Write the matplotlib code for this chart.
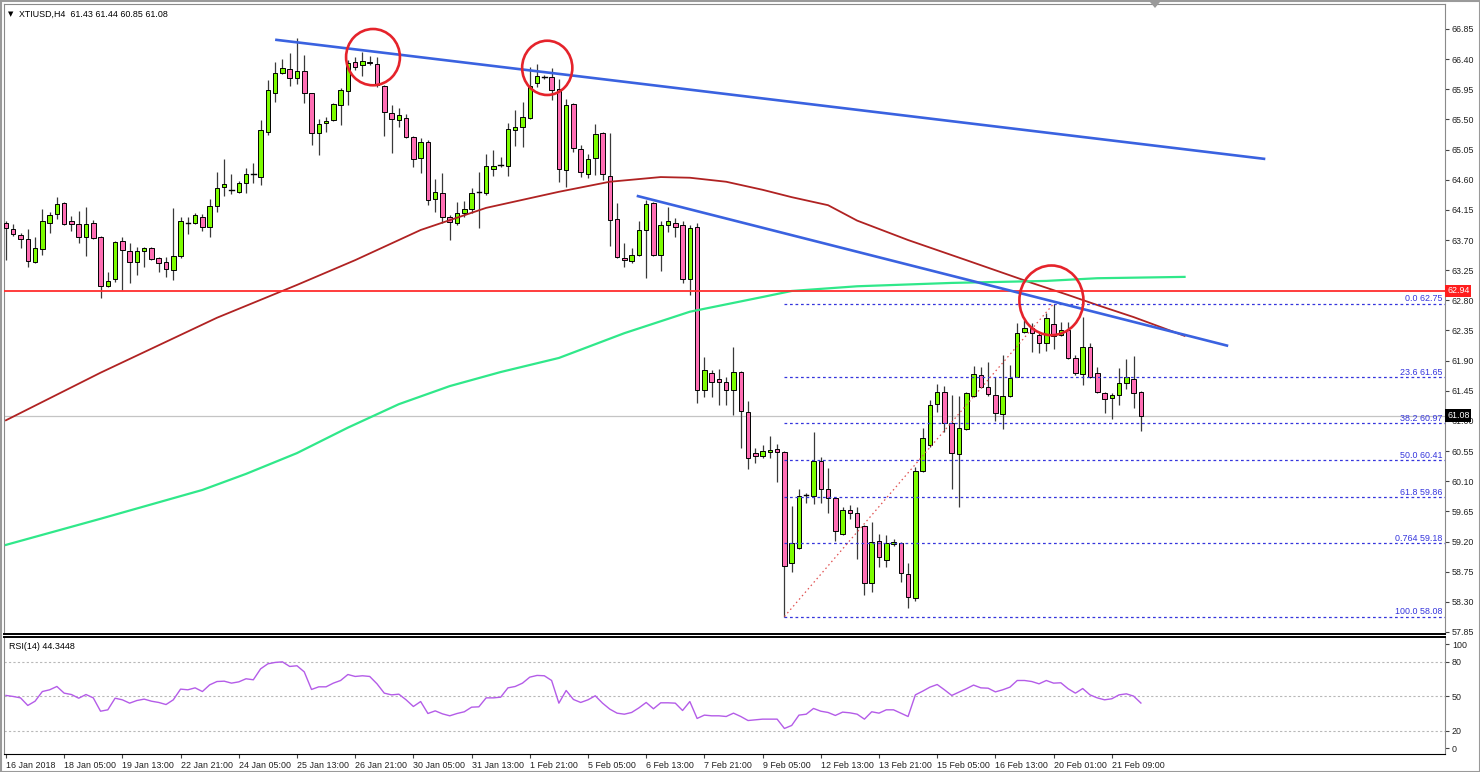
import matplotlib
matplotlib.use("Agg")
import matplotlib.pyplot as plt
from matplotlib.patches import Rectangle, Ellipse, Polygon
import matplotlib.transforms as mtransforms

plt.rcParams['font.family'] = ['Liberation Sans', 'DejaVu Sans']

# ---------------- data ----------------
opens = [63.95, 63.87, 63.78, 63.72, 63.37, 63.57, 63.95, 64.09, 64.25, 63.98,
         63.94, 63.75, 63.95, 63.75, 63.01, 63.12, 63.69, 63.54, 63.37, 63.54,
         63.58, 63.43, 63.37, 63.25, 63.46, 63.94, 63.95, 64.04, 63.90, 64.21,
         64.49, 64.43, 64.42, 64.55, 64.67, 64.64, 65.31, 65.89, 66.19, 66.25,
         66.12, 66.22, 65.89, 65.30, 65.45, 65.49, 65.72, 65.92, 66.36, 66.31,
         66.36, 66.33, 66.00, 65.60, 65.49, 65.52, 65.24, 64.93, 65.16, 64.31,
         64.40, 64.04, 63.95, 64.10, 64.16, 64.40, 64.40, 64.76, 64.81, 64.81,
         65.34, 65.39, 65.52, 66.04, 66.13, 66.13, 65.95, 64.75, 65.73, 65.06,
         64.69, 64.93, 65.30, 64.66, 64.01, 63.43, 63.39, 63.48, 63.85, 64.25,
         63.48, 63.92, 63.95, 63.92, 63.12, 63.89, 61.46, 61.72, 61.63, 61.58,
         61.46, 61.73, 61.13, 60.52, 60.48, 60.54, 60.58, 60.54, 58.88, 59.10,
         59.89, 59.88, 60.40, 59.98, 59.85, 59.31, 59.67, 59.63, 59.43, 58.58,
         59.21, 58.92, 59.16, 59.18, 58.72, 58.36, 60.25, 60.64, 61.25, 61.43,
         60.97, 60.51, 60.88, 61.37, 61.69, 61.51, 61.39, 61.10, 61.37, 61.66,
         62.33, 62.39, 62.28, 62.16, 62.45, 62.28, 62.36, 61.94, 61.70, 62.10,
         61.72, 61.42, 61.34, 61.39, 61.57, 61.63, 61.43]
highs = [63.98, 63.94, 63.81, 63.87, 63.75, 64.16, 64.12, 64.34, 64.27, 64.06,
         64.13, 64.19, 64.00, 63.76, 63.22, 63.69, 63.75, 63.66, 63.60, 63.60,
         63.60, 63.45, 63.45, 64.18, 64.04, 64.04, 64.10, 64.09, 64.31, 64.72,
         64.91, 64.69, 64.58, 64.78, 64.85, 65.49, 66.09, 66.36, 66.40, 66.49,
         66.72, 66.46, 65.90, 65.51, 65.54, 65.75, 65.97, 66.39, 66.43, 66.51,
         66.45, 66.43, 66.01, 65.72, 65.67, 65.58, 65.25, 65.22, 65.19, 64.61,
         64.70, 64.07, 64.27, 64.28, 64.48, 64.72, 64.98, 65.04, 64.94, 65.45,
         65.64, 65.76, 66.28, 66.33, 66.16, 66.27, 66.10, 65.81, 65.75, 65.12,
         64.99, 65.43, 65.31, 65.30, 64.25, 63.66, 63.58, 63.98, 64.30, 64.27,
         63.98, 64.19, 64.03, 63.98, 63.92, 63.95, 61.95, 61.76, 61.78, 61.66,
         62.10, 61.74, 61.30, 60.60, 60.64, 60.78, 60.66, 60.55, 59.73, 59.98,
         59.92, 60.84, 60.46, 60.30, 59.86, 59.72, 59.75, 59.72, 59.44, 59.49,
         59.31, 59.30, 59.24, 59.19, 58.88, 60.31, 60.90, 61.31, 61.55, 61.52,
         61.39, 61.37, 61.43, 61.82, 61.81, 61.88, 61.66, 61.98, 61.83, 62.46,
         62.51, 62.46, 62.31, 62.61, 62.75, 62.48, 62.48, 61.98, 62.55, 62.16,
         61.81, 61.43, 61.42, 61.79, 61.92, 61.97, 61.44]
lows = [63.40, 63.76, 63.58, 63.30, 63.36, 63.48, 63.81, 64.01, 63.93, 63.84,
        63.66, 63.46, 63.72, 62.84, 63.00, 63.07, 62.95, 63.06, 63.18, 63.30,
        63.40, 63.22, 63.15, 63.10, 63.43, 63.79, 63.94, 63.84, 63.75, 64.12,
        64.36, 64.39, 64.40, 64.40, 64.55, 64.52, 65.27, 65.76, 66.18, 66.00,
        66.03, 65.75, 65.12, 64.97, 65.31, 65.48, 65.42, 65.72, 66.24, 66.15,
        66.31, 65.98, 65.25, 65.00, 65.39, 65.22, 64.79, 64.70, 64.22, 64.12,
        63.95, 63.70, 63.92, 64.04, 64.10, 63.88, 64.37, 64.66, 64.79, 64.66,
        65.10, 65.09, 65.51, 65.98, 66.10, 65.79, 64.57, 64.49, 65.01, 64.64,
        64.63, 64.67, 64.60, 63.61, 63.43, 63.30, 63.36, 63.46, 63.13, 63.46,
        63.24, 63.82, 63.75, 63.06, 62.88, 61.27, 61.36, 61.36, 61.24, 61.24,
        61.09, 60.60, 60.28, 60.37, 60.45, 60.45, 60.09, 58.08, 58.75, 59.09,
        59.78, 59.76, 59.78, 59.63, 59.21, 59.30, 59.54, 58.94, 58.40, 58.45,
        58.82, 58.82, 59.13, 58.60, 58.21, 58.31, 60.24, 60.61, 61.13, 60.83,
        59.98, 59.72, 60.87, 61.36, 61.49, 61.37, 61.00, 60.88, 61.36, 61.65,
        62.32, 62.03, 62.01, 62.04, 62.07, 62.27, 61.92, 61.69, 61.54, 61.64,
        61.42, 61.12, 61.03, 61.24, 61.48, 61.19, 60.85]
closes = [63.88, 63.79, 63.72, 63.39, 63.58, 63.98, 64.07, 64.24, 63.94, 63.94,
          63.75, 63.94, 63.73, 63.01, 63.09, 63.67, 63.55, 63.37, 63.54, 63.58,
          63.42, 63.36, 63.27, 63.46, 63.98, 63.95, 64.07, 63.90, 64.21, 64.48,
          64.54, 64.44, 64.55, 64.69, 64.68, 65.34, 65.94, 66.19, 66.27, 66.12,
          66.22, 65.89, 65.30, 65.43, 65.48, 65.73, 65.94, 66.34, 66.28, 66.37,
          66.34, 66.01, 65.61, 65.51, 65.57, 65.24, 64.91, 65.16, 64.30, 64.42,
          64.04, 63.97, 64.10, 64.16, 64.40, 64.41, 64.81, 64.81, 64.82, 65.36,
          65.39, 65.54, 66.00, 66.15, 66.14, 65.94, 64.76, 65.72, 65.07, 64.72,
          64.91, 65.28, 64.69, 64.00, 63.45, 63.40, 63.48, 63.85, 64.24, 63.48,
          63.92, 63.98, 63.90, 63.12, 63.88, 61.46, 61.76, 61.58, 61.58, 61.46,
          61.73, 61.15, 60.45, 60.48, 60.55, 60.57, 60.54, 58.84, 59.18, 59.88,
          59.90, 60.40, 59.98, 59.85, 59.36, 59.67, 59.63, 59.42, 58.58, 59.19,
          58.97, 59.18, 59.19, 58.73, 58.37, 60.25, 60.75, 61.24, 61.43, 60.97,
          60.52, 60.90, 61.42, 61.70, 61.51, 61.40, 61.12, 61.37, 61.64, 62.31,
          62.39, 62.31, 62.16, 62.54, 62.27, 62.36, 61.94, 61.72, 62.10, 61.66,
          61.43, 61.33, 61.39, 61.57, 61.66, 61.42, 61.08]

rsi = [50.9, 50.0, 48.8, 42.2, 45.9, 54.3, 55.8, 58.7, 52.9, 51.7,
       48.5, 51.7, 48.8, 37.2, 38.4, 48.5, 47.1, 44.2, 46.5, 47.7,
       45.9, 44.8, 43.0, 47.1, 56.4, 55.8, 57.5, 54.3, 60.1, 63.0,
       63.3, 61.6, 62.7, 65.4, 64.5, 74.0, 78.4, 79.6, 80.1, 76.1,
       76.7, 71.4, 56.1, 58.4, 58.4, 61.6, 63.9, 69.1, 67.4, 68.0,
       67.4, 61.0, 52.9, 51.4, 52.0, 47.1, 41.3, 45.6, 35.2, 37.5,
       34.9, 33.2, 35.2, 36.7, 40.7, 41.0, 48.8, 48.8, 49.4, 57.5,
       58.7, 61.6, 66.8, 68.3, 68.0, 63.9, 44.2, 55.2, 47.4, 44.8,
       47.1, 50.6, 44.2, 39.0, 35.5, 34.6, 36.1, 40.1, 44.8, 39.3,
       44.5, 44.5, 44.2, 37.8, 45.6, 30.9, 33.8, 33.2, 33.2, 32.6,
       35.5, 32.6, 29.1, 29.7, 30.3, 30.3, 30.3, 22.2, 24.8, 33.8,
       34.6, 39.6, 37.2, 36.1, 33.5, 36.4, 35.8, 34.6, 30.3, 36.7,
       35.5, 38.4, 38.4, 35.5, 32.6, 51.4, 54.6, 58.1, 60.4, 55.8,
       50.9, 53.8, 56.7, 59.9, 57.5, 57.2, 54.0, 55.8, 58.1, 63.9,
       63.9, 63.0, 61.0, 63.9, 61.6, 61.9, 56.7, 52.9, 56.9, 51.4,
       48.8, 47.1, 48.0, 51.4, 52.3, 50.3, 44.3]

# moving averages read at sample bars
ma_red_bars = [0, 13, 29, 40, 48, 57, 66, 76, 83, 90, 94, 99, 104, 108, 113, 117, 124, 132, 141, 146, 150, 155, 159, 162]
ma_red_vals = [61.01, 61.72, 62.54, 63.03, 63.40, 63.85, 64.18, 64.42, 64.57, 64.64, 64.63, 64.57,
               64.45, 64.34, 64.22, 63.99, 63.70, 63.40, 63.06, 62.88, 62.73, 62.55, 62.39, 62.27]
ma_green_bars = [0, 13, 27, 33, 40, 47, 54, 61, 68, 76, 85, 94, 104, 108, 117, 130, 143, 150, 162]
ma_green_vals = [59.15, 59.54, 59.97, 60.21, 60.52, 60.90, 61.25, 61.52, 61.73, 61.94, 62.31, 62.63,
                 62.85, 62.94, 63.01, 63.06, 63.09, 63.13, 63.15]

# trend lines (bar, price)
trend1 = [(37.0, 66.69), (173.1, 64.91)]
trend2 = [(86.7, 64.36), (168.0, 62.12)]
fib_from = (107, 58.08)
fib_to = (144, 62.75)
fib_levels = [("0.0", 62.75), ("23.6", 61.65), ("38.2", 60.97), ("50.0", 60.41),
              ("61.8", 59.86), ("0.764", 59.18), ("100.0", 58.08)]
resistance = 62.94
bid = 61.08
# circles: centre bar, centre price, width (bars), height (price)
circles = [(50.45, 66.43, 7.4, 0.84), (74.4, 66.27, 6.9, 0.81), (143.7, 62.80, 8.8, 1.04)]

price_ticks = [66.85, 66.40, 65.95, 65.50, 65.05, 64.60, 64.15, 63.70, 63.25, 62.80, 62.35,
               61.90, 61.45, 61.00, 60.55, 60.10, 59.65, 59.20, 58.75, 58.30, 57.85]
date_tick_bars = [0, 8, 16, 24, 32, 40, 48, 56, 64, 72, 80, 88, 96, 104, 112, 120, 128, 136, 144, 152]
date_labels = ["16 Jan 2018", "18 Jan 05:00", "19 Jan 13:00", "22 Jan 21:00", "24 Jan 05:00",
               "25 Jan 13:00", "26 Jan 21:00", "30 Jan 05:00", "31 Jan 13:00", "1 Feb 21:00",
               "5 Feb 05:00", "6 Feb 13:00", "7 Feb 21:00", "9 Feb 05:00", "12 Feb 13:00",
               "13 Feb 21:00", "15 Feb 05:00", "16 Feb 13:00", "20 Feb 01:00", "21 Feb 09:00"]

# ---------------- figure ----------------
W, H = 1480, 772
fig = plt.figure(figsize=(W / 100, H / 100), dpi=100)
fig.patch.set_facecolor("white")

def fx(px):
    return px / W

def fy(py):
    return 1 - py / H

XL = (-0.27, 197.8)
ax = fig.add_axes([fx(4), fy(634), fx(1445) - fx(4), fy(4) - fy(634)])
axr = fig.add_axes([fx(4), fy(754), fx(1445) - fx(4), fy(637) - fy(754)])

FS = 6.4
TXT = "#202020"

# candles
bull, bear = "#7CFC00", "#FF6EB4"
bw = 0.62
for i, (o, h, l, c) in enumerate(zip(opens, highs, lows, closes)):
    ax.plot([i, i], [l, h], color="#3a3a3a", lw=0.9, zorder=2, solid_capstyle="butt")
    if abs(c - o) < 0.015:
        ax.plot([i - bw / 2, i + bw / 2], [c, c], color="black", lw=1.0, zorder=3)
    else:
        col = bull if c > o else bear
        ax.add_patch(Rectangle((i - bw / 2, min(o, c)), bw, abs(c - o),
                               facecolor=col, edgecolor="black", lw=0.7, zorder=3))

# moving averages
ax.plot(ma_red_bars, ma_red_vals, color="#B02222", lw=1.3, zorder=4)
ax.plot(ma_green_bars, ma_green_vals, color="#30E88A", lw=1.6, zorder=4)

# horizontal lines
ax.axhline(resistance, color="#FF2D2D", lw=1.3, zorder=4)
ax.axhline(bid, color="#C4C4C4", lw=0.9, zorder=1)

# fib levels
for pct, lv in fib_levels:
    ax.plot([fib_from[0], XL[1]], [lv, lv], color="#3535DD", lw=0.9,
            dashes=(2.2, 2.2), zorder=4)
    ax.text(XL[1] - 0.3, lv + 0.005, f"{pct} {lv:.2f}", ha="right", va="bottom",
            color="#3535DD", fontsize=FS, zorder=6)
ax.plot([fib_from[0], fib_to[0]], [fib_from[1], fib_to[1]], color="#E05050",
        lw=0.9, dashes=(1.2, 2.4), zorder=4)

# trend lines
for tl in (trend1, trend2):
    ax.plot([tl[0][0], tl[1][0]], [tl[0][1], tl[1][1]], color="#3A62E0", lw=1.9,
            zorder=5, solid_capstyle="butt")

# circles
for cx, cy, cw, ch in circles:
    ax.add_patch(Ellipse((cx, cy), cw, ch, facecolor="none", edgecolor="#E5232B",
                         lw=1.9, zorder=6))

ax.set_xlim(*XL)
ax.set_ylim(57.82, 67.223)
ax.set_xticks([])
ax.yaxis.tick_right()
ax.set_yticks(price_ticks)
ax.set_yticklabels([f"{t:.2f}" for t in price_ticks])
ax.tick_params(axis="y", direction="out", length=3, width=0.8, colors="#444444",
               labelsize=FS, labelcolor=TXT, pad=2)
for s in ("left", "top", "right"):
    ax.spines[s].set_color("#8a8a8a")
ax.spines["bottom"].set_color("black")
ax.spines["bottom"].set_linewidth(1.4)

# price boxes on axis
trans = mtransforms.blended_transform_factory(ax.transAxes, ax.transData)
ax.text(1.0015, resistance, f"{resistance:.2f}", transform=trans, ha="left", va="center",
        color="white", fontsize=FS, clip_on=False, zorder=10,
        bbox=dict(boxstyle="square,pad=0.2", facecolor="#FF1E1E", edgecolor="none"))
ax.text(1.0015, bid, f"{bid:.2f}", transform=trans, ha="left", va="center",
        color="white", fontsize=FS, clip_on=False, zorder=10,
        bbox=dict(boxstyle="square,pad=0.2", facecolor="black", edgecolor="none"))

# header
ax.text(0.0025, 0.988, "\u25BC", transform=ax.transAxes, fontsize=5, color="black",
        ha="left", va="top", family="DejaVu Sans")
ax.text(0.0105, 0.990, "XTIUSD,H4  61.43 61.44 60.85 61.08", transform=ax.transAxes,
        fontsize=FS, color="black", ha="left", va="top")

# ---------------- RSI ----------------
axr.plot(range(len(rsi)), rsi, color="#B45CE8", lw=1.0, zorder=3)
for lv in (80, 50, 20):
    axr.axhline(lv, color="#B8B8B8", lw=0.8, dashes=(2, 2), zorder=1)
axr.set_xlim(*XL)
axr.set_ylim(0, 101.7)
axr.yaxis.tick_right()
axr.set_yticks([95.5, 80, 50, 20, 5])
axr.set_yticklabels(["100", "80", "50", "20", "0"])
axr.tick_params(axis="y", direction="out", length=3, width=0.8, colors="#444444",
                labelsize=FS, labelcolor=TXT, pad=2)
axr.set_xticks(date_tick_bars)
axr.set_xticklabels(date_labels, ha="left")
axr.tick_params(axis="x", direction="out", length=3, width=0.8, colors="#444444",
                labelsize=FS, labelcolor=TXT, pad=2)
for s in ("left", "right"):
    axr.spines[s].set_color("#8a8a8a")
axr.spines["top"].set_color("black")
axr.spines["top"].set_linewidth(1.4)
axr.spines["bottom"].set_color("black")
axr.text(0.0035, 0.96, "RSI(14) 44.3448", transform=axr.transAxes, fontsize=FS,
         color="black", ha="left", va="top")

# window frame & shift marker
fig.add_artist(Rectangle((0.0008, 0.0), 0.999, 0.9985, transform=fig.transFigure,
                         fill=False, edgecolor="#9a9a9a", lw=1.5))
fig.add_artist(Polygon([[fx(1150), fy(2)], [fx(1160), fy(2)], [fx(1155), fy(8)]],
                       closed=True, transform=fig.transFigure, facecolor="#9a9a9a",
                       edgecolor="none"))

fig.savefig("out.png", dpi=100, facecolor="white")
